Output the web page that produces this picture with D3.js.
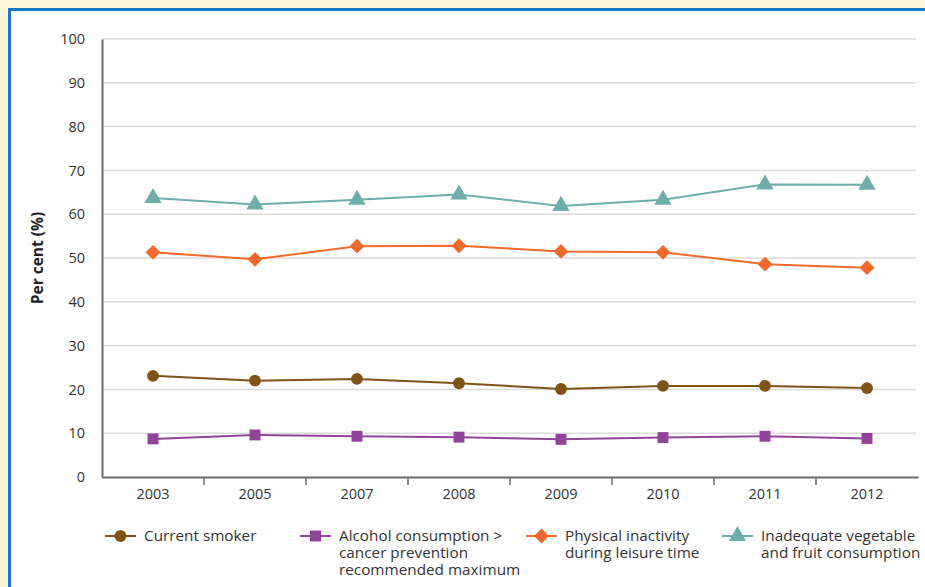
<!DOCTYPE html>
<html>
<head>
<meta charset="utf-8">
<script src="https://cdn.jsdelivr.net/npm/d3@7"></script>
<style>
  body { margin: 0; background: #fdf5d9; }
  svg { display: block; font-family: "Open Sans", "Noto Sans", sans-serif; }
</style>
</head>
<body>
<svg width="925" height="587"></svg>
<script>
// data
const years = ["2003", "2005", "2007", "2008", "2009", "2010", "2011", "2012"];
const smoker = [23.1, 22.0, 22.4, 21.4, 20.1, 20.8, 20.8, 20.3];
const alcohol = [8.7, 9.6, 9.3, 9.1, 8.6, 9.0, 9.3, 8.8];
const inactivity = [51.3, 49.7, 52.7, 52.8, 51.5, 51.3, 48.6, 47.8];
const vegFruit = [63.7, 62.2, 63.3, 64.5, 61.9, 63.3, 66.8, 66.7];
const yTicks = [0, 10, 20, 30, 40, 50, 60, 70, 80, 90, 100];

const series = [
  { name: ["Current smoker"], values: smoker, color: "#7f5217", shape: d3.symbolCircle, size: 110, rot: 0, lx: 105 },
  { name: ["Alcohol consumption >", "cancer prevention", "recommended maximum"], values: alcohol, color: "#92449a", shape: d3.symbolSquare, size: 120, rot: 0, lx: 300 },
  { name: ["Physical inactivity", "during leisure time"], values: inactivity, color: "#f1692d", shape: d3.symbolSquare, size: 110, rot: 45, lx: 526 },
  { name: ["Inadequate vegetable", "and fruit consumption"], values: vegFruit, color: "#6eaeaa", shape: d3.symbolTriangle, size: 130, rot: 0, lx: 722 }
];

const svg = d3.select("svg");

// card with blue border
svg.append("rect")
    .attr("x", 9.5).attr("y", 9.5)
    .attr("width", 930).attr("height", 600)
    .attr("fill", "#fff")
    .attr("stroke", "#1877c3")
    .attr("stroke-width", 3);

const margin = {top: 39, left: 102},
    width = 816,
    height = 438,
    g = svg.append("g").attr("transform", "translate(" + margin.left + "," + margin.top + ")");

const x = d3.scaleBand().domain(years).range([0, width]);
const y = d3.scaleLinear().domain([0, 100]).range([height, 0]);

// gridlines
g.append("g")
  .selectAll("line")
  .data(yTicks.filter(d => d > 0))
  .join("line")
    .attr("x1", 0).attr("x2", width - 2)
    .attr("y1", d => y(d)).attr("y2", d => y(d))
    .attr("stroke", "#dcdcdc")
    .attr("stroke-width", 1.5);

// y axis
const yAxis = g.append("g")
    .call(d3.axisLeft(y).tickValues(yTicks).tickSize(0).tickPadding(17));
yAxis.select(".domain").attr("stroke", "#6b6b6b").attr("stroke-width", 2);
yAxis.selectAll("text").attr("font-size", 14.5).attr("fill", "#333")
    .attr("font-family", "'Open Sans', sans-serif");

// x axis
const xAxis = g.append("g")
    .attr("transform", "translate(0," + height + ")")
    .call(d3.axisBottom(x).tickSize(0).tickPadding(12));
xAxis.select(".domain").attr("stroke", "#6b6b6b").attr("stroke-width", 2);
xAxis.selectAll("text").attr("font-size", 14.5).attr("fill", "#333")
    .attr("font-family", "'Open Sans', sans-serif");

// ticks between categories
g.append("g")
  .selectAll("line")
  .data(years.slice(1))
  .join("line")
    .attr("x1", d => x(d)).attr("x2", d => x(d))
    .attr("y1", height).attr("y2", height + 8)
    .attr("stroke", "#6b6b6b")
    .attr("stroke-width", 1.5);

// y title
svg.append("text")
    .attr("transform", "translate(43," + (margin.top + height / 2) + ") rotate(-90)")
    .attr("text-anchor", "middle")
    .attr("font-size", 15.5)
    .attr("font-weight", "bold")
    .attr("fill", "#222")
    .text("Per cent (%)");

const cx = d => x(d) + x.bandwidth() / 2;

series.forEach(s => {
  const pts = years.map((yr, i) => ({ yr: yr, v: s.values[i] }));
  const line = d3.line().x(d => cx(d.yr)).y(d => y(d.v));

  g.append("path")
      .datum(pts)
      .attr("fill", "none")
      .attr("stroke", s.color)
      .attr("stroke-width", 2)
      .attr("d", line);

  g.append("g")
    .selectAll("path")
    .data(pts)
    .join("path")
      .attr("transform", d => "translate(" + cx(d.yr) + "," + y(d.v) + ") rotate(" + s.rot + ")")
      .attr("d", d3.symbol().type(s.shape).size(s.size))
      .attr("fill", s.color);

  // legend
  const lg = svg.append("g").attr("transform", "translate(" + s.lx + ",536)");
  lg.append("line")
      .attr("x1", 0).attr("x2", 31)
      .attr("stroke", s.color).attr("stroke-width", 2);
  lg.append("path")
      .attr("transform", "translate(15.5,0) rotate(" + s.rot + ")")
      .attr("d", d3.symbol().type(s.shape).size(s.size))
      .attr("fill", s.color);
  lg.append("text")
      .attr("x", 39)
      .attr("font-size", 15.3)
      .attr("fill", "#333")
    .selectAll("tspan")
    .data(s.name)
    .join("tspan")
      .attr("x", 39)
      .attr("y", (d, i) => i * 17)
      .attr("dy", "0.35em")
      .text(d => d);
});
</script>
</body>
</html>
